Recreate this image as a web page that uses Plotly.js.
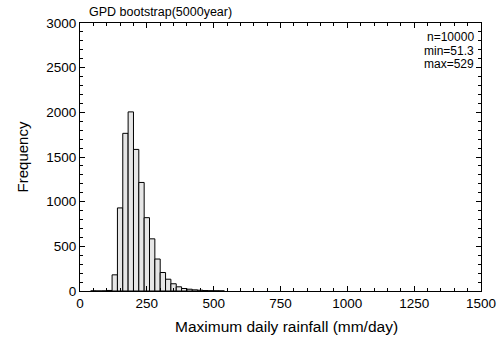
<!DOCTYPE html>
<html>
<head>
<meta charset="utf-8">
<script src="https://cdn.plot.ly/plotly-3.0.1.min.js"></script>
<style>html,body{margin:0;padding:0;background:#fff;}#chart{width:500px;height:345px;}</style>
</head>
<body>
<div id="chart"></div>
<script>
// Histogram bins (left edge of each 20 mm/day bin) and frequencies
const binLeft = [40, 60, 80, 100, 120, 140, 160, 180, 200, 220, 240, 260, 280, 300, 320, 340, 360, 380, 400, 420, 440, 460, 480, 500, 520];
const counts  = [1, 0, 1, 6, 181, 930, 1765, 2005, 1585, 1215, 821, 584, 358, 207, 132, 81, 47, 28, 20, 13, 9, 5, 3, 2, 1];
const statLines = ["n=10000", "min=51.3", "max=529"];
const chartTitle = "GPD bootstrap(5000year)";
const xTitle = "Maximum daily rainfall (mm/day)";
const yTitle = "Frequency";

const fontFam = "Liberation Sans, Arial, sans-serif";

const trace = {
  type: "bar",
  x: binLeft,
  y: counts,
  width: 20,
  offset: 0,
  marker: { color: "#e6e6e6", line: { color: "#000", width: 1 } },
  hoverinfo: "skip"
};

const axisCommon = {
  showline: true, linecolor: "#000", linewidth: 1, mirror: "allticks",
  ticks: "inside", ticklen: 5, tickwidth: 1, tickcolor: "#000",
  showgrid: false, zeroline: false,
  tickfont: { family: fontFam, size: 13.5, color: "#000" }
};

const annotations = [{
  xref: "paper", yref: "paper", x: 0, y: 1, xanchor: "left", yanchor: "bottom",
  xshift: 7, yshift: 2, showarrow: false, text: chartTitle,
  font: { family: fontFam, size: 12.5, color: "#000" }
}, {
  xref: "paper", yref: "paper", x: 0.5, y: 0, xanchor: "center", yanchor: "middle",
  xshift: 6, yshift: -35, showarrow: false, text: xTitle,
  font: { family: fontFam, size: 15.5, color: "#000" }
}];
statLines.forEach((t, i) => {
  annotations.push({
    xref: "paper", yref: "paper", x: 1, y: 1, xanchor: "right", yanchor: "middle",
    xshift: -5, yshift: -14 - 13.5 * i, showarrow: false, text: t,
    font: { family: fontFam, size: 12, color: "#000" }
  });
});

const layout = {
  width: 500, height: 345,
  margin: { l: 80, r: 19, t: 23, b: 54 },
  paper_bgcolor: "#fff", plot_bgcolor: "#fff",
  bargap: 0,
  showlegend: false,
  xaxis: Object.assign({}, axisCommon, {
    range: [0, 1500], dtick: 250, tick0: 0,
    minor: { dtick: 50, ticks: "inside", ticklen: 3, tickcolor: "#000", showgrid: false }
  }),
  yaxis: Object.assign({}, axisCommon, {
    range: [0, 3000], dtick: 500, tick0: 0,
    minor: { dtick: 100, ticks: "inside", ticklen: 3, tickcolor: "#000", showgrid: false },
    title: { text: yTitle, font: { family: fontFam, size: 15, color: "#000" }, standoff: 14 }
  }),
  annotations: annotations
};

Plotly.newPlot("chart", [trace], layout, { staticPlot: true, displayModeBar: false });
</script>
</body>
</html>
